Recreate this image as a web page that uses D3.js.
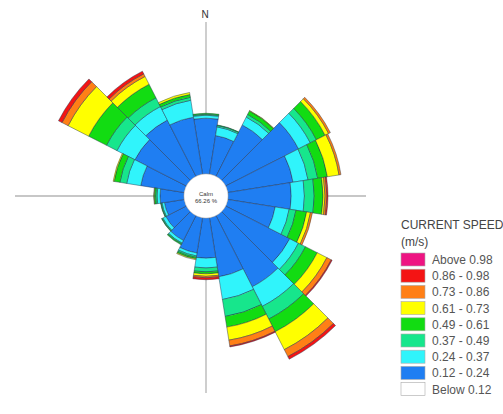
<!DOCTYPE html>
<html>
<head>
<meta charset="utf-8">
<script src="https://cdn.jsdelivr.net/npm/d3@7"></script>
<style>
  html, body { margin: 0; padding: 0; background: #fff; }
  svg { display: block; font-family: "Liberation Sans", Arial, sans-serif; }
</style>
</head>
<body>
<svg id="chart" width="503" height="414"></svg>
<script>
// Direction sectors (18° each, centred on the compass bearing)
const directions = ["0°","18°","36°","54°","72°","90°","108°","126°","144°","162°",
                    "180°","198°","216°","234°","252°","270°","288°","306°","324°","342°"];

// Frequency (%) per direction for each current-speed class (m/s)
const speed012_024 = [1.14,0.80,1.18,1.67,1.35,1.29,0.98,1.47,1.63,1.22,0.82,0.73,0.57,0.47,0.41,0.49,0.90,1.18,1.29,1.18];
const speed024_037 = [0.06,0.18,0.18,0.27,0.31,0.27,0.29,0.20,0.45,0.47,0.20,0.06,0.06,0.07,0.05,0.06,0.29,0.41,0.31,0.35];
const speed037_049 = [0.02,0.03,0.06,0.14,0.20,0.20,0.14,0.16,0.29,0.35,0.08,0.03,0.02,0.02,0.02,0.03,0.14,0.24,0.20,0.06];
const speed049_061 = [0.02,0.01,0.08,0.20,0.20,0.18,0.22,0.27,0.29,0.22,0.04,0.03,0.02,0.01,0.01,0.03,0.12,0.41,0.31,0.06];
const speed061_073 = [0.00,0.00,0.01,0.08,0.24,0.04,0.08,0.22,0.41,0.27,0.05,0.02,0.00,0.00,0.00,0.01,0.02,0.47,0.18,0.04];
const speed073_086 = [0.00,0.00,0.00,0.04,0.04,0.04,0.04,0.10,0.16,0.12,0.03,0.00,0.00,0.00,0.00,0.00,0.00,0.14,0.06,0.00];
const speed086_098 = [0.00,0.00,0.00,0.00,0.00,0.02,0.00,0.02,0.06,0.02,0.04,0.00,0.00,0.00,0.00,0.00,0.00,0.08,0.06,0.00];
const speedAbove098 = [0,0,0,0,0,0,0,0,0,0,0,0,0,0,0,0,0,0,0,0];

const calmPercent = "66.26 %";

// Legend classes, top to bottom
const legendLabels = ["Above 0.98","0.86 - 0.98","0.73 - 0.86","0.61 - 0.73","0.49 - 0.61",
                      "0.37 - 0.49","0.24 - 0.37","0.12 - 0.24","Below 0.12"];
const legendColors = ["#ee1482","#f41414","#ff7f16","#ffff00","#12dc12",
                      "#17e68c","#30f4fb","#1f7ef2","#ffffff"];

// Stacking order from the centre outward
const classKeys = ["c1","c2","c3","c4","c5","c6","c7","c8"];
const classSeries = [speed012_024, speed024_037, speed037_049, speed049_061,
                     speed061_073, speed073_086, speed086_098, speedAbove098];
const classColors = ["#1f7ef2","#30f4fb","#17e68c","#12dc12","#ffff00","#ff7f16","#f41414","#ee1482"];

const rows = directions.map((d, i) => {
  const r = { dir: d };
  classKeys.forEach((k, j) => r[k] = classSeries[j][i]);
  return r;
});

const svg = d3.select("#chart");
const cx = 206, cy = 196, calmR = 22;

// Compass axes
const axes = svg.append("g").attr("stroke", "#b4b4b4").attr("stroke-width", 1.3);
axes.append("line").attr("x1", 15).attr("x2", 366).attr("y1", cy).attr("y2", cy);
axes.append("line").attr("x1", cx).attr("x2", cx).attr("y1", 22).attr("y2", 393);

svg.append("text").attr("x", cx - 1).attr("y", 18).attr("text-anchor", "middle")
  .attr("font-size", 10).attr("fill", "#333").text("N");

const sector = 2 * Math.PI / directions.length;
const angle = d3.scaleBand().domain(directions)
  .range([-sector / 2, 2 * Math.PI - sector / 2]).padding(0);
const radius = d3.scaleLinear().domain([0, 4]).range([calmR, calmR + 4 * 49]);

const stacked = d3.stack().keys(classKeys)(rows);
const arc = d3.arc()
  .innerRadius(d => radius(d[0]))
  .outerRadius(d => radius(d[1]))
  .startAngle(d => angle(d.data.dir))
  .endAngle(d => angle(d.data.dir) + angle.bandwidth());

const rose = svg.append("g").attr("transform", `translate(${cx},${cy})`);
rose.selectAll("g.layer").data(stacked).join("g")
  .attr("class", "layer")
  .attr("fill", (d, i) => classColors[i])
  .selectAll("path")
  .data(d => d.filter(s => s[1] - s[0] > 0))
  .join("path")
  .attr("d", arc)
  .attr("stroke", "#23324a")
  .attr("stroke-opacity", 0.75)
  .attr("stroke-width", 0.6);

// Calm circle
rose.append("circle").attr("r", calmR).attr("fill", "#fff")
  .attr("stroke", "#c8c8c8").attr("stroke-width", 0.6);
rose.append("text").attr("y", -0.5).attr("text-anchor", "middle")
  .attr("font-size", 6).attr("fill", "#333").text("Calm");
rose.append("text").attr("y", 7).attr("text-anchor", "middle")
  .attr("font-size", 6).attr("fill", "#333").text(calmPercent);

// Legend
const lx = 401, ly = 253, step = 16.2;
const legend = svg.append("g");
legend.append("text").attr("x", lx).attr("y", 228.5).attr("font-size", 12)
  .attr("fill", "#444").text("CURRENT SPEED");
legend.append("text").attr("x", lx).attr("y", 245.5).attr("font-size", 12)
  .attr("fill", "#444").text("(m/s)");
const items = legend.selectAll("g.item").data(legendLabels).join("g")
  .attr("class", "item")
  .attr("transform", (d, i) => `translate(${lx},${ly + i * step})`);
items.append("rect").attr("width", 24).attr("height", 13)
  .attr("fill", (d, i) => legendColors[i])
  .attr("stroke", "#aaa").attr("stroke-width", 0.6);
items.append("text").attr("x", 31).attr("y", 11).attr("font-size", 12)
  .attr("fill", "#555").text(d => d);
</script>
</body>
</html>
